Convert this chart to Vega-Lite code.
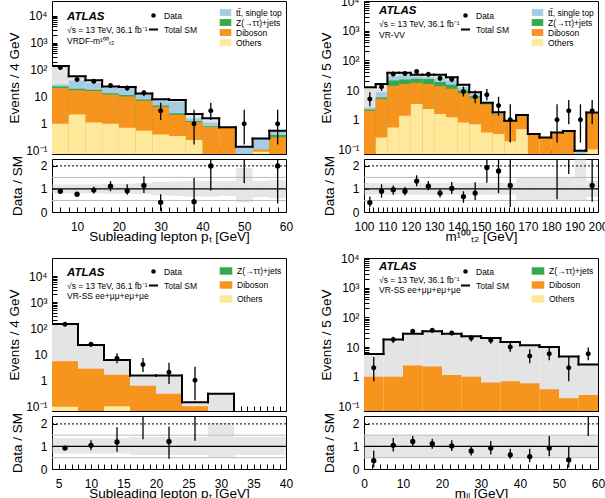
{
"$schema": "https://vega.github.io/schema/vega-lite/v6.json",
"padding": {"left": 7, "top": -6, "right": 0, "bottom": 0},
"config": {
 "font": "Liberation Sans",
 "view": {"stroke": "black", "strokeWidth": 1},
 "axis": {"domain": false, "grid": false, "ticks": true, "tickColor": "black", "tickSize": -5, "tickWidth": 1, "labelPadding": 10, "labelFontSize": 12, "labelColor": "black", "labelFont": "Liberation Sans", "labelOverlap": false, "labelFlush": false, "titleFont": "Liberation Sans", "titleFontSize": 13.5, "titleFontWeight": "normal", "titleColor": "black"},
 "axisX": {"labelPadding": 14, "titlePadding": -3},
 "axisY": {"titlePadding": 4},
 "legend": {"title": null, "padding": 0, "labelFont": "Liberation Sans", "labelFontSize": 8.5, "labelColor": "black", "labelLimit": 300, "orient": "none", "labelOffset": 5}
},
"datasets": {
 "A": [
  {"lo":4,"hi":8,"mid":6,"c1_others":1.0,"c2_diboson":20,"c3_ztt":3,"c4_ttbar":4,"c5_fake":109,"data":120,"dlo":109,"dhi":131,"r":0.9,"rlo":0.83,"rhi":0.97,"blo":0.8,"bhi":1.2},
  {"lo":8,"hi":12,"mid":10,"c1_others":2.2,"c2_diboson":15,"c3_ztt":2.5,"c4_ttbar":20,"c5_fake":17,"data":43,"dlo":36.5,"dhi":49.5,"r":0.77,"rlo":0.68,"rhi":0.86,"blo":0.8,"bhi":1.2},
  {"lo":12,"hi":16,"mid":14,"c1_others":1.1,"c2_diboson":15,"c3_ztt":2,"c4_ttbar":14,"c5_fake":8,"data":37,"dlo":31,"dhi":43,"r":0.95,"rlo":0.8,"rhi":1.1,"blo":0.8,"bhi":1.2},
  {"lo":16,"hi":20,"mid":18,"c1_others":1.0,"c2_diboson":11,"c3_ztt":1.5,"c4_ttbar":8,"c5_fake":2.5,"data":26,"dlo":21,"dhi":31,"r":1.12,"rlo":0.9,"rhi":1.34,"blo":0.79,"bhi":1.22},
  {"lo":20,"hi":24,"mid":22,"c1_others":0.7,"c2_diboson":9.5,"c3_ztt":1.3,"c4_ttbar":9.5,"c5_fake":2,"data":21,"dlo":16.5,"dhi":25.5,"r":0.92,"rlo":0.75,"rhi":1.2,"blo":0.79,"bhi":1.22},
  {"lo":24,"hi":28,"mid":26,"c1_others":0.55,"c2_diboson":6.5,"c3_ztt":0.8,"c4_ttbar":4.7,"c5_fake":0.45,"data":14,"dlo":10.3,"dhi":17.7,"r":1.15,"rlo":0.82,"rhi":1.55,"blo":0.78,"bhi":1.25},
  {"lo":28,"hi":32,"mid":30,"c1_others":0.4,"c2_diboson":3.8,"c3_ztt":0.5,"c4_ttbar":2.8,"c5_fake":0.5,"data":3,"dlo":1.37,"dhi":5.92,"r":0.42,"rlo":0.05,"rhi":0.77,"blo":0.72,"bhi":1.3},
  {"lo":32,"hi":36,"mid":34,"c1_others":0.35,"c2_diboson":1.8,"c3_ztt":0.3,"c4_ttbar":4.0,"c5_fake":1.0,"data":null,"dlo":null,"dhi":null,"r":null,"rlo":null,"rhi":null,"blo":0.7,"bhi":1.32},
  {"lo":36,"hi":40,"mid":38,"c1_others":0.25,"c2_diboson":0.9,"c3_ztt":0.1,"c4_ttbar":0.35,"c5_fake":0.7,"data":1,"dlo":0.17,"dhi":3.3,"r":0.45,"rlo":0,"rhi":1.48,"blo":0.67,"bhi":1.35},
  {"lo":40,"hi":44,"mid":42,"c1_others":0.05,"c2_diboson":0.7,"c3_ztt":0.05,"c4_ttbar":0.3,"c5_fake":0.5,"data":3,"dlo":1.37,"dhi":5.92,"r":2.0,"rlo":0.93,"rhi":3.7,"blo":0.67,"bhi":1.35},
  {"lo":44,"hi":48,"mid":46,"c1_others":0.02,"c2_diboson":0.71,"c3_ztt":0,"c4_ttbar":0,"c5_fake":0,"data":null,"dlo":null,"dhi":null,"r":null,"rlo":null,"rhi":null,"blo":0.7,"bhi":1.35},
  {"lo":48,"hi":52,"mid":50,"c1_others":0,"c2_diboson":0,"c3_ztt":0,"c4_ttbar":0.14,"c5_fake":0,"data":1,"dlo":0.17,"dhi":3.3,"r":null,"rlo":1.25,"rhi":5,"blo":0.42,"bhi":1.9},
  {"lo":52,"hi":56,"mid":54,"c1_others":0.09,"c2_diboson":0.02,"c3_ztt":0,"c4_ttbar":0.17,"c5_fake":0,"data":null,"dlo":null,"dhi":null,"r":null,"rlo":null,"rhi":null,"blo":0.65,"bhi":1.35},
  {"lo":56,"hi":60,"mid":58,"c1_others":0,"c2_diboson":0.31,"c3_ztt":0.07,"c4_ttbar":0.17,"c5_fake":0,"data":1,"dlo":0.17,"dhi":3.3,"r":2.0,"rlo":0.37,"rhi":5,"blo":0.6,"bhi":1.38}
 ],
 "B": [
  {"lo":100,"hi":105,"mid":102.5,"c1_others":0,"c2_diboson":2.0,"c3_ztt":0.2,"c4_ttbar":0.4,"c5_fake":9.9,"data":5,"dlo":2.84,"dhi":8.38,"r":0.41,"rlo":0.22,"rhi":0.67,"blo":0.75,"bhi":1.27},
  {"lo":105,"hi":110,"mid":107.5,"c1_others":0.25,"c2_diboson":4.75,"c3_ztt":0.6,"c4_ttbar":2.8,"c5_fake":7.6,"data":13,"dlo":9.4,"dhi":16.6,"r":0.9,"rlo":0.62,"rhi":1.2,"blo":0.75,"bhi":1.27},
  {"lo":110,"hi":115,"mid":112.5,"c1_others":0.55,"c2_diboson":13.45,"c3_ztt":7,"c4_ttbar":8,"c5_fake":9,"data":35,"dlo":29,"dhi":41,"r":0.97,"rlo":0.75,"rhi":1.15,"blo":0.75,"bhi":1.27},
  {"lo":115,"hi":120,"mid":117.5,"c1_others":1.37,"c2_diboson":14.6,"c3_ztt":6.6,"c4_ttbar":8.4,"c5_fake":7,"data":36,"dlo":30,"dhi":42,"r":0.9,"rlo":0.72,"rhi":1.09,"blo":0.75,"bhi":1.27},
  {"lo":120,"hi":125,"mid":122.5,"c1_others":3.4,"c2_diboson":14.1,"c3_ztt":6.5,"c4_ttbar":5,"c5_fake":4,"data":42,"dlo":35.5,"dhi":48.5,"r":1.34,"rlo":1.12,"rhi":1.6,"blo":0.75,"bhi":1.27},
  {"lo":125,"hi":130,"mid":127.5,"c1_others":2.3,"c2_diboson":13.7,"c3_ztt":7.5,"c4_ttbar":3.5,"c5_fake":6,"data":34,"dlo":28,"dhi":40,"r":1.12,"rlo":0.94,"rhi":1.34,"blo":0.75,"bhi":1.27},
  {"lo":130,"hi":135,"mid":132.5,"c1_others":1.55,"c2_diboson":11.95,"c3_ztt":5,"c4_ttbar":5.5,"c5_fake":9,"data":25,"dlo":20,"dhi":30,"r":0.82,"rlo":0.63,"rhi":1.0,"blo":0.75,"bhi":1.27},
  {"lo":135,"hi":140,"mid":137.5,"c1_others":1.2,"c2_diboson":9.8,"c3_ztt":4,"c4_ttbar":6,"c5_fake":6,"data":23,"dlo":18.2,"dhi":27.8,"r":1.02,"rlo":0.78,"rhi":1.3,"blo":0.75,"bhi":1.27},
  {"lo":140,"hi":145,"mid":142.5,"c1_others":0.8,"c2_diboson":7,"c3_ztt":1.8,"c4_ttbar":2.9,"c5_fake":2.5,"data":9,"dlo":6.06,"dhi":13.1,"r":0.67,"rlo":0.4,"rhi":0.9,"blo":0.75,"bhi":1.27},
  {"lo":145,"hi":150,"mid":147.5,"c1_others":0.7,"c2_diboson":4.6,"c3_ztt":0.9,"c4_ttbar":1.2,"c5_fake":1.0,"data":6,"dlo":3.62,"dhi":9.58,"r":0.82,"rlo":0.52,"rhi":1.29,"blo":0.75,"bhi":1.27},
  {"lo":150,"hi":155,"mid":152.5,"c1_others":0.37,"c2_diboson":2.9,"c3_ztt":0.15,"c4_ttbar":0.25,"c5_fake":0.03,"data":7,"dlo":4.42,"dhi":10.77,"r":1.93,"rlo":1.27,"rhi":2.6,"blo":0.75,"bhi":1.27},
  {"lo":155,"hi":160,"mid":157.5,"c1_others":0.33,"c2_diboson":1.2,"c3_ztt":0.05,"c4_ttbar":0.2,"c5_fake":0,"data":3,"dlo":1.37,"dhi":5.92,"r":1.78,"rlo":0.82,"rhi":3,"blo":0.75,"bhi":1.27},
  {"lo":160,"hi":165,"mid":162.5,"c1_others":0.19,"c2_diboson":0.73,"c3_ztt":0,"c4_ttbar":0,"c5_fake":0,"data":1,"dlo":0.17,"dhi":3.3,"r":1.15,"rlo":0.22,"rhi":3.6,"blo":0.75,"bhi":1.27},
  {"lo":165,"hi":170,"mid":167.5,"c1_others":0.48,"c2_diboson":0.89,"c3_ztt":0,"c4_ttbar":0.07,"c5_fake":0,"data":null,"dlo":null,"dhi":null,"r":null,"rlo":null,"rhi":null,"blo":0.53,"bhi":1.48},
  {"lo":170,"hi":175,"mid":172.5,"c1_others":0,"c2_diboson":0.33,"c3_ztt":0,"c4_ttbar":0,"c5_fake":0,"data":null,"dlo":null,"dhi":null,"r":null,"rlo":null,"rhi":null,"blo":0.53,"bhi":1.48},
  {"lo":175,"hi":180,"mid":177.5,"c1_others":0,"c2_diboson":0.25,"c3_ztt":0,"c4_ttbar":0,"c5_fake":0,"data":null,"dlo":null,"dhi":null,"r":null,"rlo":null,"rhi":null,"blo":0.53,"bhi":1.48},
  {"lo":180,"hi":185,"mid":182.5,"c1_others":0,"c2_diboson":0.37,"c3_ztt":0,"c4_ttbar":0,"c5_fake":0,"data":1,"dlo":0.17,"dhi":3.3,"r":null,"rlo":0.55,"rhi":9,"blo":0.53,"bhi":1.48},
  {"lo":185,"hi":190,"mid":187.5,"c1_others":0,"c2_diboson":0.42,"c3_ztt":0,"c4_ttbar":0,"c5_fake":0,"data":2,"dlo":0.71,"dhi":4.64,"r":null,"rlo":1.65,"rhi":11,"blo":0.53,"bhi":1.48},
  {"lo":190,"hi":195,"mid":192.5,"c1_others":0,"c2_diboson":0.07,"c3_ztt":0,"c4_ttbar":0.02,"c5_fake":0,"data":1,"dlo":0.17,"dhi":3.3,"r":null,"rlo":null,"rhi":null,"blo":0.5,"bhi":2.3},
  {"lo":195,"hi":200,"mid":197.5,"c1_others":0.1,"c2_diboson":1.55,"c3_ztt":0.05,"c4_ttbar":0.05,"c5_fake":0,"data":2,"dlo":0.71,"dhi":4.64,"r":1.15,"rlo":0.45,"rhi":2.6,"blo":0.65,"bhi":1.35}
 ],
 "C": [
  {"lo":4,"hi":8,"mid":6,"c1_others":0.095,"c2_diboson":5.2,"c3_ztt":0,"c4_ttbar":0,"c5_fake":139.7,"data":140,"dlo":128,"dhi":152,"r":0.93,"rlo":0.88,"rhi":0.98,"blo":0.68,"bhi":1.38},
  {"lo":8,"hi":12,"mid":10,"c1_others":0.02,"c2_diboson":2.7,"c3_ztt":0,"c4_ttbar":0,"c5_fake":19.7,"data":24,"dlo":19,"dhi":29,"r":1.05,"rlo":0.83,"rhi":1.27,"blo":0.68,"bhi":1.38},
  {"lo":12,"hi":16,"mid":14,"c1_others":0.1,"c2_diboson":1.5,"c3_ztt":0,"c4_ttbar":0,"c5_fake":4.4,"data":7,"dlo":4.42,"dhi":10.77,"r":1.2,"rlo":0.76,"rhi":1.85,"blo":0.68,"bhi":1.38},
  {"lo":16,"hi":20,"mid":18,"c1_others":0,"c2_diboson":0.61,"c3_ztt":0,"c4_ttbar":0,"c5_fake":0.89,"data":4,"dlo":2.08,"dhi":7.16,"r":null,"rlo":1.32,"rhi":4.8,"blo":0.62,"bhi":1.42},
  {"lo":20,"hi":24,"mid":22,"c1_others":0,"c2_diboson":0.3,"c3_ztt":0,"c4_ttbar":0,"c5_fake":1.2,"data":2,"dlo":0.71,"dhi":4.64,"r":1.22,"rlo":0.45,"rhi":1.88,"blo":0.62,"bhi":1.42},
  {"lo":24,"hi":28,"mid":26,"c1_others":0,"c2_diboson":0.1,"c3_ztt":0,"c4_ttbar":0,"c5_fake":0.04,"data":1,"dlo":0.17,"dhi":3.3,"r":null,"rlo":1.25,"rhi":20,"blo":0.62,"bhi":1.42},
  {"lo":28,"hi":32,"mid":30,"c1_others":0,"c2_diboson":0,"c3_ztt":0,"c4_ttbar":0,"c5_fake":0.3,"data":null,"dlo":null,"dhi":null,"r":null,"rlo":null,"rhi":null,"blo":0.52,"bhi":2.05},
  {"lo":32,"hi":36,"mid":34,"c1_others":0,"c2_diboson":0,"c3_ztt":0,"c4_ttbar":0,"c5_fake":0.001,"data":null,"dlo":null,"dhi":null,"r":null,"rlo":null,"rhi":null,"blo":0.62,"bhi":1.42},
  {"lo":36,"hi":40,"mid":38,"c1_others":0,"c2_diboson":0,"c3_ztt":0,"c4_ttbar":0,"c5_fake":0.001,"data":null,"dlo":null,"dhi":null,"r":null,"rlo":null,"rhi":null,"blo":0.62,"bhi":1.42}
 ],
 "D": [
  {"lo":0,"hi":5,"mid":2.5,"c1_others":0,"c2_diboson":1.0,"c3_ztt":0,"c4_ttbar":0,"c5_fake":4.8,"data":2,"dlo":0.71,"dhi":4.64,"r":0.37,"rlo":0.07,"rhi":0.82,"blo":0.5,"bhi":1.5},
  {"lo":5,"hi":10,"mid":7.5,"c1_others":0,"c2_diboson":1.0,"c3_ztt":0,"c4_ttbar":0,"c5_fake":16.8,"data":18,"dlo":13.8,"dhi":22.2,"r":1.05,"rlo":0.78,"rhi":1.37,"blo":0.5,"bhi":1.5},
  {"lo":10,"hi":15,"mid":12.5,"c1_others":0,"c2_diboson":2.4,"c3_ztt":0,"c4_ttbar":0,"c5_fake":25.6,"data":34,"dlo":28,"dhi":40,"r":1.22,"rlo":1.0,"rhi":1.46,"blo":0.5,"bhi":1.5},
  {"lo":15,"hi":20,"mid":17.5,"c1_others":0,"c2_diboson":2.2,"c3_ztt":0,"c4_ttbar":0,"c5_fake":31.8,"data":37,"dlo":31,"dhi":43,"r":1.12,"rlo":0.9,"rhi":1.34,"blo":0.5,"bhi":1.5},
  {"lo":20,"hi":25,"mid":22.5,"c1_others":0.05,"c2_diboson":1.1,"c3_ztt":0,"c4_ttbar":0,"c5_fake":26.85,"data":30,"dlo":24.5,"dhi":35.5,"r":1.02,"rlo":0.8,"rhi":1.27,"blo":0.5,"bhi":1.5},
  {"lo":25,"hi":30,"mid":27.5,"c1_others":0.05,"c2_diboson":0.95,"c3_ztt":0,"c4_ttbar":0,"c5_fake":22,"data":20,"dlo":15.5,"dhi":24.5,"r":0.8,"rlo":0.6,"rhi":1.0,"blo":0.5,"bhi":1.5},
  {"lo":30,"hi":35,"mid":32.5,"c1_others":0,"c2_diboson":0.64,"c3_ztt":0,"c4_ttbar":0,"c5_fake":19.4,"data":17,"dlo":12.9,"dhi":21.1,"r":0.93,"rlo":0.64,"rhi":1.24,"blo":0.5,"bhi":1.5},
  {"lo":35,"hi":40,"mid":37.5,"c1_others":0,"c2_diboson":0.71,"c3_ztt":0,"c4_ttbar":0,"c5_fake":14.1,"data":10,"dlo":6.89,"dhi":14.27,"r":0.63,"rlo":0.45,"rhi":0.9,"blo":0.5,"bhi":1.5},
  {"lo":40,"hi":45,"mid":42.5,"c1_others":0,"c2_diboson":0.6,"c3_ztt":0,"c4_ttbar":0,"c5_fake":10.8,"data":5,"dlo":2.84,"dhi":8.38,"r":0.55,"rlo":0.3,"rhi":0.9,"blo":0.5,"bhi":1.5},
  {"lo":45,"hi":50,"mid":47.5,"c1_others":0,"c2_diboson":0.38,"c3_ztt":0,"c4_ttbar":0,"c5_fake":9.6,"data":6,"dlo":3.62,"dhi":9.58,"r":0.93,"rlo":0.57,"rhi":1.46,"blo":0.5,"bhi":1.5},
  {"lo":50,"hi":55,"mid":52.5,"c1_others":0,"c2_diboson":0.19,"c3_ztt":0,"c4_ttbar":0,"c5_fake":4.6,"data":2,"dlo":0.71,"dhi":4.64,"r":0.4,"rlo":0.07,"rhi":0.97,"blo":0.5,"bhi":1.5},
  {"lo":55,"hi":60,"mid":57.5,"c1_others":0,"c2_diboson":0.24,"c3_ztt":0,"c4_ttbar":0,"c5_fake":2.36,"data":6,"dlo":3.62,"dhi":9.58,"r":null,"rlo":1.46,"rhi":4,"blo":0.5,"bhi":1.5}
 ]
},
"spacing": 8,
"resolve": {"scale": {"color": "independent", "shape": "independent", "strokeDash": "independent"}, "legend": {"color": "independent", "shape": "independent", "strokeDash": "independent"}},
"vconcat": [
 {"resolve": {"scale": {"color": "independent", "shape": "independent", "strokeDash": "independent"}, "legend": {"color": "independent", "shape": "independent", "strokeDash": "independent"}},
  "hconcat": [
  {"resolve": {"scale": {"color": "independent", "shape": "independent", "strokeDash": "independent"}, "legend": {"color": "independent", "shape": "independent", "strokeDash": "independent"}},
   "vconcat": [
   {"width": 234, "height": 153, "data": {"name": "A"},
    "title": {"text": "ATLAS", "subtitle": ["\u221as = 13 TeV, 36.1 fb\u207b\u00b9", "VRDF-m\u00b9\u2070\u2070\u209c\u2082"], "anchor": "start", "frame": "group", "orient": "top", "offset": 0, "dx": 15, "dy": 44, "fontSize": 11.5, "fontStyle": "italic", "fontWeight": "bold", "color": "black", "subtitleFontSize": 8.5, "subtitleColor": "black", "subtitlePadding": 3, "subtitleLineHeight": 11},
    "layer": [
     {"transform": [{"fold": ["c5_fake","c4_ttbar","c3_ztt","c2_diboson","c1_others"], "as": ["comp","val"]}, {"filter": "datum.val > 0"}, {"stack": "val", "groupby": ["lo"], "sort": [{"field": "comp", "order": "ascending"}], "as": ["s0","s1"]}],
      "mark": {"type": "bar", "clip": true},
      "encoding": {
       "x": {"field": "lo", "type": "quantitative", "scale": {"domain": [4,60], "nice": false, "zero": false}, "axis": {"tickCount": 500, "values": [4,6,8,10,12,14,16,18,20,22,24,26,28,30,32,34,36,38,40,42,44,46,48,50,52,54,56,58,60], "labels": false, "title": null}},
       "x2": {"field": "hi"},
       "y": {"field": "s1", "type": "quantitative", "stack": null, "scale": {"type": "log", "domain": [0.075, 35000], "nice": false}, "axis": {"title": "Events / 4 GeV", "tickCount": 500, "labelOverlap": false, "values": [0.08,0.09,0.1,0.2,0.3,0.4,0.5,0.6,0.7,0.8,0.9,1,2,3,4,5,6,7,8,9,10,20,30,40,50,60,70,80,90,100,200,300,400,500,600,700,800,900,1000,2000,3000,4000,5000,6000,7000,8000,9000,10000], "labelExpr": "datum.value==10000?'10\u2074':datum.value==1000?'10\u00b3':datum.value==100?'10\u00b2':datum.value==10?'10':datum.value==1?'1':datum.value==0.1?'10\u207b\u00b9':''"}},
       "y2": {"datum": 0.001},
       "color": {"field": "comp", "type": "nominal", "scale": {"domain": ["c1_others","c2_diboson","c3_ztt","c4_ttbar","c5_fake"], "range": ["#fee99a","#f7941d","#36a84d","#a4cde3","#e4e4e4"]}, "legend": {"legendX": 168, "legendY": 6, "values": ["c4_ttbar","c3_ztt","c2_diboson","c1_others"], "symbolType": "M-1.1,-0.65H1.1V0.65H-1.1Z", "symbolSize": 110, "rowPadding": 0, "symbolStrokeWidth": 0, "labelExpr": "datum.value=='c4_ttbar'?'tt\u0304, single top':datum.value=='c3_ztt'?'Z(\u2192\u03c4\u03c4)+jets':datum.value=='c2_diboson'?'Diboson':datum.value=='c1_others'?'Others':'Fake/nonprompt'"}},
       "order": {"field": "comp", "sort": "descending"}
      }
     },
     {"transform": [{"fold": ["c5_fake","c4_ttbar","c3_ztt","c2_diboson","c1_others"], "as": ["comp","val"]}, {"aggregate": [{"op": "sum", "field": "val", "as": "tot"}], "groupby": ["lo","hi"]}, {"window": [{"op": "lag", "field": "tot", "as": "prev"}], "sort": [{"field": "lo"}]}],
      "layer": [
       {"mark": {"type": "rule", "color": "black", "strokeWidth": 2, "strokeCap": "square", "clip": true}, "encoding": {"x": {"field": "lo", "type": "quantitative"}, "x2": {"field": "hi"}, "y": {"field": "tot", "type": "quantitative"},
        "strokeDash": {"datum": "Total SM", "type": "nominal", "scale": {"domain": ["Total SM"], "range": [[1,0]]}, "legend": {"legendX": 96, "legendY": 23, "symbolType": "stroke", "symbolSize": 81, "symbolStrokeColor": "black", "symbolStrokeWidth": 2}}}},
       {"mark": {"type": "rule", "color": "black", "strokeWidth": 2, "strokeCap": "square", "clip": true}, "encoding": {"x": {"field": "lo", "type": "quantitative"}, "y": {"field": "prev", "type": "quantitative"}, "y2": {"field": "tot"}}}
      ]
     },
     {"mark": {"type": "rule", "color": "black", "strokeWidth": 1.3, "clip": true}, "encoding": {"x": {"field": "mid", "type": "quantitative"}, "y": {"field": "dlo", "type": "quantitative"}, "y2": {"field": "dhi"}}},
     {"mark": {"type": "point", "filled": true, "color": "black", "size": 100, "opacity": 1, "clip": true},
      "encoding": {"x": {"field": "mid", "type": "quantitative"}, "y": {"field": "data", "type": "quantitative"},
       "shape": {"datum": "Data", "type": "nominal", "scale": {"domain": ["Data"], "range": ["M0,-1V1M0.5,0A0.5,0.5,0,1,1,-0.5,0A0.5,0.5,0,1,1,0.5,0Z"]},
        "legend": {"legendX": 96, "legendY": 9, "symbolSize": 81, "symbolFillColor": "black", "symbolStrokeColor": "black", "symbolStrokeWidth": 1.2}}
      }
     }
    ]
   },
   {"width": 234, "height": 53, "data": {"name": "A"},
    "layer": [
     {"mark": {"type": "rect", "color": "#c4c4c4", "opacity": 0.42, "clip": true},
      "encoding": {
       "x": {"field": "lo", "type": "quantitative", "scale": {"domain": [4,60], "nice": false, "zero": false}, "axis": {"title": "Subleading lepton p\u209c [GeV]", "format": "d", "tickCount": 500, "labelOverlap": false, "values": [4,6,8,10,12,14,16,18,20,22,24,26,28,30,32,34,36,38,40,42,44,46,48,50,52,54,56,58,60], "labelExpr": "datum.value % 10 === 0 ? datum.label : ''"}},
       "x2": {"field": "hi"},
       "y": {"field": "blo", "type": "quantitative", "scale": {"domain": [0, 2.3], "nice": false}, "axis": {"title": "Data / SM", "titlePadding": 16, "format": "d", "tickCount": 500, "labelOverlap": false, "values": [0,0.5,1,1.5,2], "labelExpr": "datum.value % 1 === 0 ? datum.label : ''"}},
       "y2": {"field": "bhi"},
       "strokeDash": {"datum": "Fake/nonprompt", "type": "nominal", "scale": {"domain": ["Fake/nonprompt"], "range": [[1,0]]}, "legend": {"legendX": 96, "legendY": -121, "symbolType": "square", "symbolSize": 81, "symbolFillColor": "#e4e4e4", "symbolStrokeColor": "transparent", "symbolStrokeWidth": 0}}
      }
     },
     {"data": {"values": [{}]}, "mark": {"type": "rule", "color": "#bbbbbb", "strokeWidth": 1}, "encoding": {"y": {"datum": 0.5}}},
     {"data": {"values": [{}]}, "mark": {"type": "rule", "color": "#bbbbbb", "strokeWidth": 1}, "encoding": {"y": {"datum": 1.5}}},
     {"data": {"values": [{}]}, "mark": {"type": "rule", "color": "black", "strokeWidth": 1, "strokeDash": [2,2]}, "encoding": {"y": {"datum": 2}}},
     {"data": {"values": [{}]}, "mark": {"type": "rule", "color": "black", "strokeWidth": 1.2}, "encoding": {"y": {"datum": 1}}},
     {"mark": {"type": "rule", "color": "black", "strokeWidth": 1.3, "clip": true}, "encoding": {"x": {"field": "mid", "type": "quantitative"}, "y": {"field": "rlo", "type": "quantitative"}, "y2": {"field": "rhi"}}},
     {"mark": {"type": "point", "filled": true, "color": "black", "size": 28, "opacity": 1, "clip": true}, "encoding": {"x": {"field": "mid", "type": "quantitative"}, "y": {"field": "r", "type": "quantitative"}}}
    ]
   }
  ], "spacing": 5, "bounds": "flush"},
  {"resolve": {"scale": {"color": "independent", "shape": "independent", "strokeDash": "independent"}, "legend": {"color": "independent", "shape": "independent", "strokeDash": "independent"}},
   "vconcat": [
   {"width": 234, "height": 153, "data": {"name": "B"},
    "title": {"text": "ATLAS", "subtitle": ["\u221as = 13 TeV, 36.1 fb\u207b\u00b9", "VR-VV"], "anchor": "start", "frame": "group", "orient": "top", "offset": 0, "dx": 15, "dy": 44, "fontSize": 11.5, "fontStyle": "italic", "fontWeight": "bold", "color": "black", "subtitleFontSize": 8.5, "subtitleColor": "black", "subtitlePadding": 3, "subtitleLineHeight": 11},
    "layer": [
     {"transform": [{"fold": ["c5_fake","c4_ttbar","c3_ztt","c2_diboson","c1_others"], "as": ["comp","val"]}, {"filter": "datum.val > 0"}, {"stack": "val", "groupby": ["lo"], "sort": [{"field": "comp", "order": "ascending"}], "as": ["s0","s1"]}],
      "mark": {"type": "bar", "clip": true},
      "encoding": {
       "x": {"field": "lo", "type": "quantitative", "scale": {"domain": [100,200], "nice": false, "zero": false}, "axis": {"tickCount": 500, "values": [100,102,104,106,108,110,112,114,116,118,120,122,124,126,128,130,132,134,136,138,140,142,144,146,148,150,152,154,156,158,160,162,164,166,168,170,172,174,176,178,180,182,184,186,188,190,192,194,196,198,200], "labels": false, "title": null}},
       "x2": {"field": "hi"},
       "y": {"field": "s1", "type": "quantitative", "stack": null, "scale": {"type": "log", "domain": [0.07, 10000], "nice": false}, "axis": {"title": "Events / 5 GeV", "tickCount": 500, "labelOverlap": false, "values": [0.08,0.09,0.1,0.2,0.3,0.4,0.5,0.6,0.7,0.8,0.9,1,2,3,4,5,6,7,8,9,10,20,30,40,50,60,70,80,90,100,200,300,400,500,600,700,800,900,1000,2000,3000,4000,5000,6000,7000,8000,9000,10000], "labelExpr": "datum.value==10000?'10\u2074':datum.value==1000?'10\u00b3':datum.value==100?'10\u00b2':datum.value==10?'10':datum.value==1?'1':datum.value==0.1?'10\u207b\u00b9':''"}},
       "y2": {"datum": 0.001},
       "color": {"field": "comp", "type": "nominal", "scale": {"domain": ["c1_others","c2_diboson","c3_ztt","c4_ttbar","c5_fake"], "range": ["#fee99a","#f7941d","#36a84d","#a4cde3","#e4e4e4"]}, "legend": {"legendX": 168, "legendY": 6, "values": ["c4_ttbar","c3_ztt","c2_diboson","c1_others"], "symbolType": "M-1.1,-0.65H1.1V0.65H-1.1Z", "symbolSize": 110, "rowPadding": 0, "symbolStrokeWidth": 0, "labelExpr": "datum.value=='c4_ttbar'?'tt\u0304, single top':datum.value=='c3_ztt'?'Z(\u2192\u03c4\u03c4)+jets':datum.value=='c2_diboson'?'Diboson':datum.value=='c1_others'?'Others':'Fake/nonprompt'"}},
       "order": {"field": "comp", "sort": "descending"}
      }
     },
     {"transform": [{"fold": ["c5_fake","c4_ttbar","c3_ztt","c2_diboson","c1_others"], "as": ["comp","val"]}, {"aggregate": [{"op": "sum", "field": "val", "as": "tot"}], "groupby": ["lo","hi"]}, {"window": [{"op": "lag", "field": "tot", "as": "prev"}], "sort": [{"field": "lo"}]}],
      "layer": [
       {"mark": {"type": "rule", "color": "black", "strokeWidth": 2, "strokeCap": "square", "clip": true}, "encoding": {"x": {"field": "lo", "type": "quantitative"}, "x2": {"field": "hi"}, "y": {"field": "tot", "type": "quantitative"},
        "strokeDash": {"datum": "Total SM", "type": "nominal", "scale": {"domain": ["Total SM"], "range": [[1,0]]}, "legend": {"legendX": 96, "legendY": 23, "symbolType": "stroke", "symbolSize": 81, "symbolStrokeColor": "black", "symbolStrokeWidth": 2}}}},
       {"mark": {"type": "rule", "color": "black", "strokeWidth": 2, "strokeCap": "square", "clip": true}, "encoding": {"x": {"field": "lo", "type": "quantitative"}, "y": {"field": "prev", "type": "quantitative"}, "y2": {"field": "tot"}}}
      ]
     },
     {"mark": {"type": "rule", "color": "black", "strokeWidth": 1.3, "clip": true}, "encoding": {"x": {"field": "mid", "type": "quantitative"}, "y": {"field": "dlo", "type": "quantitative"}, "y2": {"field": "dhi"}}},
     {"mark": {"type": "point", "filled": true, "color": "black", "size": 100, "opacity": 1, "clip": true},
      "encoding": {"x": {"field": "mid", "type": "quantitative"}, "y": {"field": "data", "type": "quantitative"},
       "shape": {"datum": "Data", "type": "nominal", "scale": {"domain": ["Data"], "range": ["M0,-1V1M0.5,0A0.5,0.5,0,1,1,-0.5,0A0.5,0.5,0,1,1,0.5,0Z"]},
        "legend": {"legendX": 96, "legendY": 9, "symbolSize": 81, "symbolFillColor": "black", "symbolStrokeColor": "black", "symbolStrokeWidth": 1.2}}
      }
     }
    ]
   },
   {"width": 234, "height": 53, "data": {"name": "B"},
    "layer": [
     {"mark": {"type": "rect", "color": "#c4c4c4", "opacity": 0.42, "clip": true},
      "encoding": {
       "x": {"field": "lo", "type": "quantitative", "scale": {"domain": [100,200], "nice": false, "zero": false}, "axis": {"title": "m\u00b9\u2070\u2070\u209c\u2082 [GeV]", "format": "d", "tickCount": 500, "labelOverlap": false, "values": [100,102,104,106,108,110,112,114,116,118,120,122,124,126,128,130,132,134,136,138,140,142,144,146,148,150,152,154,156,158,160,162,164,166,168,170,172,174,176,178,180,182,184,186,188,190,192,194,196,198,200], "labelExpr": "datum.value % 10 === 0 ? datum.label : ''"}},
       "x2": {"field": "hi"},
       "y": {"field": "blo", "type": "quantitative", "scale": {"domain": [0, 2.3], "nice": false}, "axis": {"title": "Data / SM", "titlePadding": 16, "format": "d", "tickCount": 500, "labelOverlap": false, "values": [0,0.5,1,1.5,2], "labelExpr": "datum.value % 1 === 0 ? datum.label : ''"}},
       "y2": {"field": "bhi"},
       "strokeDash": {"datum": "Fake/nonprompt", "type": "nominal", "scale": {"domain": ["Fake/nonprompt"], "range": [[1,0]]}, "legend": {"legendX": 96, "legendY": -121, "symbolType": "square", "symbolSize": 81, "symbolFillColor": "#e4e4e4", "symbolStrokeColor": "transparent", "symbolStrokeWidth": 0}}
      }
     },
     {"data": {"values": [{}]}, "mark": {"type": "rule", "color": "#bbbbbb", "strokeWidth": 1}, "encoding": {"y": {"datum": 0.5}}},
     {"data": {"values": [{}]}, "mark": {"type": "rule", "color": "#bbbbbb", "strokeWidth": 1}, "encoding": {"y": {"datum": 1.5}}},
     {"data": {"values": [{}]}, "mark": {"type": "rule", "color": "black", "strokeWidth": 1, "strokeDash": [2,2]}, "encoding": {"y": {"datum": 2}}},
     {"data": {"values": [{}]}, "mark": {"type": "rule", "color": "black", "strokeWidth": 1.2}, "encoding": {"y": {"datum": 1}}},
     {"mark": {"type": "rule", "color": "black", "strokeWidth": 1.3, "clip": true}, "encoding": {"x": {"field": "mid", "type": "quantitative"}, "y": {"field": "rlo", "type": "quantitative"}, "y2": {"field": "rhi"}}},
     {"mark": {"type": "point", "filled": true, "color": "black", "size": 28, "opacity": 1, "clip": true}, "encoding": {"x": {"field": "mid", "type": "quantitative"}, "y": {"field": "r", "type": "quantitative"}}}
    ]
   }
  ], "spacing": 5, "bounds": "flush"}
 ], "spacing": 25},
 {"resolve": {"scale": {"color": "independent", "shape": "independent", "strokeDash": "independent"}, "legend": {"color": "independent", "shape": "independent", "strokeDash": "independent"}},
  "hconcat": [
  {"resolve": {"scale": {"color": "independent", "shape": "independent", "strokeDash": "independent"}, "legend": {"color": "independent", "shape": "independent", "strokeDash": "independent"}},
   "vconcat": [
   {"width": 234, "height": 153, "data": {"name": "C"},
    "title": {"text": "ATLAS", "subtitle": ["\u221as = 13 TeV, 36.1 fb\u207b\u00b9", "VR-SS ee+\u03bc\u03bc+e\u03bc+\u03bce"], "anchor": "start", "frame": "group", "orient": "top", "offset": 0, "dx": 15, "dy": 42, "fontSize": 11.5, "fontStyle": "italic", "fontWeight": "bold", "color": "black", "subtitleFontSize": 8.5, "subtitleColor": "black", "subtitlePadding": 3, "subtitleLineHeight": 10},
    "layer": [
     {"transform": [{"fold": ["c5_fake","c4_ttbar","c3_ztt","c2_diboson","c1_others"], "as": ["comp","val"]}, {"filter": "datum.val > 0"}, {"stack": "val", "groupby": ["lo"], "sort": [{"field": "comp", "order": "ascending"}], "as": ["s0","s1"]}],
      "mark": {"type": "bar", "clip": true},
      "encoding": {
       "x": {"field": "lo", "type": "quantitative", "scale": {"domain": [4,40], "nice": false, "zero": false}, "axis": {"tickCount": 500, "values": [4,5,6,7,8,9,10,11,12,13,14,15,16,17,18,19,20,21,22,23,24,25,26,27,28,29,30,31,32,33,34,35,36,37,38,39,40], "labels": false, "title": null}},
       "x2": {"field": "hi"},
       "y": {"field": "s1", "type": "quantitative", "stack": null, "scale": {"type": "log", "domain": [0.065, 50000], "nice": false}, "axis": {"title": "Events / 4 GeV", "tickCount": 500, "labelOverlap": false, "values": [0.07,0.08,0.09,0.1,0.2,0.3,0.4,0.5,0.6,0.7,0.8,0.9,1,2,3,4,5,6,7,8,9,10,20,30,40,50,60,70,80,90,100,200,300,400,500,600,700,800,900,1000,2000,3000,4000,5000,6000,7000,8000,9000,10000], "labelExpr": "datum.value==10000?'10\u2074':datum.value==1000?'10\u00b3':datum.value==100?'10\u00b2':datum.value==10?'10':datum.value==1?'1':datum.value==0.1?'10\u207b\u00b9':''"}},
       "y2": {"datum": 0.001},
       "color": {"field": "comp", "type": "nominal", "scale": {"domain": ["c1_others","c2_diboson","c3_ztt","c4_ttbar","c5_fake"], "range": ["#fee99a","#f7941d","#36a84d","#a4cde3","#e4e4e4"]}, "legend": {"legendX": 168, "legendY": 7, "values": ["c3_ztt","c2_diboson","c1_others"], "symbolType": "M-1.1,-0.65H1.1V0.65H-1.1Z", "symbolSize": 130, "rowPadding": 3, "symbolStrokeWidth": 0, "labelExpr": "datum.value=='c4_ttbar'?'tt\u0304, single top':datum.value=='c3_ztt'?'Z(\u2192\u03c4\u03c4)+jets':datum.value=='c2_diboson'?'Diboson':datum.value=='c1_others'?'Others':'Fake/nonprompt'"}},
       "order": {"field": "comp", "sort": "descending"}
      }
     },
     {"transform": [{"fold": ["c5_fake","c4_ttbar","c3_ztt","c2_diboson","c1_others"], "as": ["comp","val"]}, {"aggregate": [{"op": "sum", "field": "val", "as": "tot"}], "groupby": ["lo","hi"]}, {"window": [{"op": "lag", "field": "tot", "as": "prev"}], "sort": [{"field": "lo"}]}],
      "layer": [
       {"mark": {"type": "rule", "color": "black", "strokeWidth": 2, "strokeCap": "square", "clip": true}, "encoding": {"x": {"field": "lo", "type": "quantitative"}, "x2": {"field": "hi"}, "y": {"field": "tot", "type": "quantitative"},
        "strokeDash": {"datum": "Total SM", "type": "nominal", "scale": {"domain": ["Total SM"], "range": [[1,0]]}, "legend": {"legendX": 96, "legendY": 22, "symbolType": "stroke", "symbolSize": 81, "symbolStrokeColor": "black", "symbolStrokeWidth": 2}}}},
       {"mark": {"type": "rule", "color": "black", "strokeWidth": 2, "strokeCap": "square", "clip": true}, "encoding": {"x": {"field": "lo", "type": "quantitative"}, "y": {"field": "prev", "type": "quantitative"}, "y2": {"field": "tot"}}}
      ]
     },
     {"mark": {"type": "rule", "color": "black", "strokeWidth": 1.3, "clip": true}, "encoding": {"x": {"field": "mid", "type": "quantitative"}, "y": {"field": "dlo", "type": "quantitative"}, "y2": {"field": "dhi"}}},
     {"mark": {"type": "point", "filled": true, "color": "black", "size": 100, "opacity": 1, "clip": true},
      "encoding": {"x": {"field": "mid", "type": "quantitative"}, "y": {"field": "data", "type": "quantitative"},
       "shape": {"datum": "Data", "type": "nominal", "scale": {"domain": ["Data"], "range": ["M0,-1V1M0.5,0A0.5,0.5,0,1,1,-0.5,0A0.5,0.5,0,1,1,0.5,0Z"]},
        "legend": {"legendX": 96, "legendY": 8, "symbolSize": 81, "symbolFillColor": "black", "symbolStrokeColor": "black", "symbolStrokeWidth": 1.2}}
      }
     }
    ]
   },
   {"width": 234, "height": 53, "data": {"name": "C"},
    "layer": [
     {"mark": {"type": "rect", "color": "#c4c4c4", "opacity": 0.42, "clip": true},
      "encoding": {
       "x": {"field": "lo", "type": "quantitative", "scale": {"domain": [4,40], "nice": false, "zero": false}, "axis": {"title": "Subleading lepton p\u209c [GeV]", "format": "d", "tickCount": 500, "labelOverlap": false, "values": [4,5,6,7,8,9,10,11,12,13,14,15,16,17,18,19,20,21,22,23,24,25,26,27,28,29,30,31,32,33,34,35,36,37,38,39,40], "labelExpr": "datum.value % 5 === 0 ? datum.label : ''"}},
       "x2": {"field": "hi"},
       "y": {"field": "blo", "type": "quantitative", "scale": {"domain": [0, 2.35], "nice": false}, "axis": {"title": "Data / SM", "titlePadding": 16, "format": "d", "tickCount": 500, "labelOverlap": false, "values": [0,0.5,1,1.5,2], "labelExpr": "datum.value % 1 === 0 ? datum.label : ''"}},
       "y2": {"field": "bhi"},
       "strokeDash": {"datum": "Fake/nonprompt", "type": "nominal", "scale": {"domain": ["Fake/nonprompt"], "range": [[1,0]]}, "legend": {"legendX": 96, "legendY": -122, "symbolType": "square", "symbolSize": 81, "symbolFillColor": "#e4e4e4", "symbolStrokeColor": "transparent", "symbolStrokeWidth": 0}}
      }
     },
     {"data": {"values": [{}]}, "mark": {"type": "rule", "color": "#bbbbbb", "strokeWidth": 1}, "encoding": {"y": {"datum": 0.5}}},
     {"data": {"values": [{}]}, "mark": {"type": "rule", "color": "#bbbbbb", "strokeWidth": 1}, "encoding": {"y": {"datum": 1.5}}},
     {"data": {"values": [{}]}, "mark": {"type": "rule", "color": "black", "strokeWidth": 1, "strokeDash": [2,2]}, "encoding": {"y": {"datum": 2}}},
     {"data": {"values": [{}]}, "mark": {"type": "rule", "color": "black", "strokeWidth": 1.2}, "encoding": {"y": {"datum": 1}}},
     {"mark": {"type": "rule", "color": "black", "strokeWidth": 1.3, "clip": true}, "encoding": {"x": {"field": "mid", "type": "quantitative"}, "y": {"field": "rlo", "type": "quantitative"}, "y2": {"field": "rhi"}}},
     {"mark": {"type": "point", "filled": true, "color": "black", "size": 28, "opacity": 1, "clip": true}, "encoding": {"x": {"field": "mid", "type": "quantitative"}, "y": {"field": "r", "type": "quantitative"}}}
    ]
   }
  ], "spacing": 5, "bounds": "flush"},
  {"resolve": {"scale": {"color": "independent", "shape": "independent", "strokeDash": "independent"}, "legend": {"color": "independent", "shape": "independent", "strokeDash": "independent"}},
   "vconcat": [
   {"width": 234, "height": 153, "data": {"name": "D"},
    "title": {"text": "ATLAS", "subtitle": ["\u221as = 13 TeV, 36.1 fb\u207b\u00b9", "VR-SS ee+\u03bc\u03bc+e\u03bc+\u03bce"], "anchor": "start", "frame": "group", "orient": "top", "offset": 0, "dx": 15, "dy": 42, "fontSize": 11.5, "fontStyle": "italic", "fontWeight": "bold", "color": "black", "subtitleFontSize": 8.5, "subtitleColor": "black", "subtitlePadding": 3, "subtitleLineHeight": 10},
    "layer": [
     {"transform": [{"fold": ["c5_fake","c4_ttbar","c3_ztt","c2_diboson","c1_others"], "as": ["comp","val"]}, {"filter": "datum.val > 0"}, {"stack": "val", "groupby": ["lo"], "sort": [{"field": "comp", "order": "ascending"}], "as": ["s0","s1"]}],
      "mark": {"type": "bar", "clip": true},
      "encoding": {
       "x": {"field": "lo", "type": "quantitative", "scale": {"domain": [0,60], "nice": false, "zero": false}, "axis": {"tickCount": 500, "values": [0,2,4,6,8,10,12,14,16,18,20,22,24,26,28,30,32,34,36,38,40,42,44,46,48,50,52,54,56,58,60], "labels": false, "title": null}},
       "x2": {"field": "hi"},
       "y": {"field": "s1", "type": "quantitative", "stack": null, "scale": {"type": "log", "domain": [0.07, 10000], "nice": false}, "axis": {"title": "Events / 5 GeV", "tickCount": 500, "labelOverlap": false, "values": [0.08,0.09,0.1,0.2,0.3,0.4,0.5,0.6,0.7,0.8,0.9,1,2,3,4,5,6,7,8,9,10,20,30,40,50,60,70,80,90,100,200,300,400,500,600,700,800,900,1000,2000,3000,4000,5000,6000,7000,8000,9000,10000], "labelExpr": "datum.value==10000?'10\u2074':datum.value==1000?'10\u00b3':datum.value==100?'10\u00b2':datum.value==10?'10':datum.value==1?'1':datum.value==0.1?'10\u207b\u00b9':''"}},
       "y2": {"datum": 0.001},
       "color": {"field": "comp", "type": "nominal", "scale": {"domain": ["c1_others","c2_diboson","c3_ztt","c4_ttbar","c5_fake"], "range": ["#fee99a","#f7941d","#36a84d","#a4cde3","#e4e4e4"]}, "legend": {"legendX": 168, "legendY": 7, "values": ["c3_ztt","c2_diboson","c1_others"], "symbolType": "M-1.1,-0.65H1.1V0.65H-1.1Z", "symbolSize": 130, "rowPadding": 3, "symbolStrokeWidth": 0, "labelExpr": "datum.value=='c4_ttbar'?'tt\u0304, single top':datum.value=='c3_ztt'?'Z(\u2192\u03c4\u03c4)+jets':datum.value=='c2_diboson'?'Diboson':datum.value=='c1_others'?'Others':'Fake/nonprompt'"}},
       "order": {"field": "comp", "sort": "descending"}
      }
     },
     {"transform": [{"fold": ["c5_fake","c4_ttbar","c3_ztt","c2_diboson","c1_others"], "as": ["comp","val"]}, {"aggregate": [{"op": "sum", "field": "val", "as": "tot"}], "groupby": ["lo","hi"]}, {"window": [{"op": "lag", "field": "tot", "as": "prev"}], "sort": [{"field": "lo"}]}],
      "layer": [
       {"mark": {"type": "rule", "color": "black", "strokeWidth": 2, "strokeCap": "square", "clip": true}, "encoding": {"x": {"field": "lo", "type": "quantitative"}, "x2": {"field": "hi"}, "y": {"field": "tot", "type": "quantitative"},
        "strokeDash": {"datum": "Total SM", "type": "nominal", "scale": {"domain": ["Total SM"], "range": [[1,0]]}, "legend": {"legendX": 96, "legendY": 22, "symbolType": "stroke", "symbolSize": 81, "symbolStrokeColor": "black", "symbolStrokeWidth": 2}}}},
       {"mark": {"type": "rule", "color": "black", "strokeWidth": 2, "strokeCap": "square", "clip": true}, "encoding": {"x": {"field": "lo", "type": "quantitative"}, "y": {"field": "prev", "type": "quantitative"}, "y2": {"field": "tot"}}}
      ]
     },
     {"mark": {"type": "rule", "color": "black", "strokeWidth": 1.3, "clip": true}, "encoding": {"x": {"field": "mid", "type": "quantitative"}, "y": {"field": "dlo", "type": "quantitative"}, "y2": {"field": "dhi"}}},
     {"mark": {"type": "point", "filled": true, "color": "black", "size": 100, "opacity": 1, "clip": true},
      "encoding": {"x": {"field": "mid", "type": "quantitative"}, "y": {"field": "data", "type": "quantitative"},
       "shape": {"datum": "Data", "type": "nominal", "scale": {"domain": ["Data"], "range": ["M0,-1V1M0.5,0A0.5,0.5,0,1,1,-0.5,0A0.5,0.5,0,1,1,0.5,0Z"]},
        "legend": {"legendX": 96, "legendY": 8, "symbolSize": 81, "symbolFillColor": "black", "symbolStrokeColor": "black", "symbolStrokeWidth": 1.2}}
      }
     }
    ]
   },
   {"width": 234, "height": 53, "data": {"name": "D"},
    "layer": [
     {"mark": {"type": "rect", "color": "#c4c4c4", "opacity": 0.42, "clip": true},
      "encoding": {
       "x": {"field": "lo", "type": "quantitative", "scale": {"domain": [0,60], "nice": false, "zero": false}, "axis": {"title": "m\u2097\u2097 [GeV]", "format": "d", "tickCount": 500, "labelOverlap": false, "values": [0,2,4,6,8,10,12,14,16,18,20,22,24,26,28,30,32,34,36,38,40,42,44,46,48,50,52,54,56,58,60], "labelExpr": "datum.value % 10 === 0 ? datum.label : ''"}},
       "x2": {"field": "hi"},
       "y": {"field": "blo", "type": "quantitative", "scale": {"domain": [0, 2.35], "nice": false}, "axis": {"title": "Data / SM", "titlePadding": 16, "format": "d", "tickCount": 500, "labelOverlap": false, "values": [0,0.5,1,1.5,2], "labelExpr": "datum.value % 1 === 0 ? datum.label : ''"}},
       "y2": {"field": "bhi"},
       "strokeDash": {"datum": "Fake/nonprompt", "type": "nominal", "scale": {"domain": ["Fake/nonprompt"], "range": [[1,0]]}, "legend": {"legendX": 96, "legendY": -122, "symbolType": "square", "symbolSize": 81, "symbolFillColor": "#e4e4e4", "symbolStrokeColor": "transparent", "symbolStrokeWidth": 0}}
      }
     },
     {"data": {"values": [{}]}, "mark": {"type": "rule", "color": "#bbbbbb", "strokeWidth": 1}, "encoding": {"y": {"datum": 0.5}}},
     {"data": {"values": [{}]}, "mark": {"type": "rule", "color": "#bbbbbb", "strokeWidth": 1}, "encoding": {"y": {"datum": 1.5}}},
     {"data": {"values": [{}]}, "mark": {"type": "rule", "color": "black", "strokeWidth": 1, "strokeDash": [2,2]}, "encoding": {"y": {"datum": 2}}},
     {"data": {"values": [{}]}, "mark": {"type": "rule", "color": "black", "strokeWidth": 1.2}, "encoding": {"y": {"datum": 1}}},
     {"mark": {"type": "rule", "color": "black", "strokeWidth": 1.3, "clip": true}, "encoding": {"x": {"field": "mid", "type": "quantitative"}, "y": {"field": "rlo", "type": "quantitative"}, "y2": {"field": "rhi"}}},
     {"mark": {"type": "point", "filled": true, "color": "black", "size": 28, "opacity": 1, "clip": true}, "encoding": {"x": {"field": "mid", "type": "quantitative"}, "y": {"field": "r", "type": "quantitative"}}}
    ]
   }
  ], "spacing": 5, "bounds": "flush"}
 ], "spacing": 25}
]
}
